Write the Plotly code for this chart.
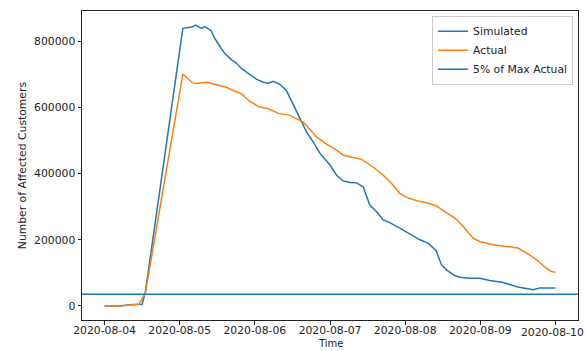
import pandas as pd
import plotly.graph_objects as go

start = pd.Timestamp("2020-08-04 00:00")

sim_hours = [0, 5, 8, 12, 13, 25, 28, 29, 31, 32, 34, 35, 37, 38.5, 40.6, 42, 43.8, 45.9, 48.6,
             50.7, 52.3, 53.9, 56, 58.1, 59.7, 62.4, 64.5, 66.6, 68.8, 72, 74.1, 76.2, 78.4,
             80.5, 82.6, 84.7, 86.9, 89, 91.1, 94.3, 97.5, 100.7, 103.3, 105.9, 107.6, 109.2,
             111.9, 113.5, 116.6, 119.8, 123, 127.3, 132, 136.9, 139, 144]
sim_values = [0, 0, 4000, 5000, 40000, 839000, 843000, 849000, 839000, 844000, 832000, 812000,
              782000, 762000, 744000, 735000, 717000, 704000, 685000, 676000, 673000, 679000,
              670000, 651000, 621000, 567000, 526000, 496000, 461000, 426000, 395000, 378000,
              373000, 372000, 360000, 305000, 285000, 260000, 252000, 235000, 217000, 200000,
              190000, 167000, 124000, 109000, 91000, 87000, 84000, 84000, 77000, 71000, 57000,
              49000, 54000, 54000]

act_hours = [0, 5, 8, 11, 13, 25, 28, 29.4, 32.6, 35.8, 39, 41.1, 43.8, 46.4, 49.6, 52.3, 55.5,
             59.2, 63.5, 67.7, 71.4, 74.1, 76.2, 78.4, 82.1, 85.8, 89, 91.7, 94.3, 96.5, 99.7,
             102.9, 106, 109.2, 112.4, 114.5, 116.6, 117.7, 119.8, 124.1, 128.4, 132, 134.8,
             138, 141.1, 142.7, 144]
act_values = [0, 0, 3000, 6000, 37000, 701000, 675000, 672000, 676000, 669000, 661000, 651000,
              641000, 618000, 601000, 596000, 582000, 576000, 556000, 511000, 486000, 471000,
              456000, 451000, 443000, 420000, 395000, 370000, 340000, 328000, 318000, 312000,
              302000, 282000, 262000, 240000, 215000, 205000, 195000, 185000, 180000, 175000,
              160000, 139000, 114000, 104000, 102000]

sim_t = [start + pd.Timedelta(hours=h) for h in sim_hours]
act_t = [start + pd.Timedelta(hours=h) for h in act_hours]
threshold = 0.05 * max(act_values)

tmin, tmax = min(sim_t + act_t), max(sim_t + act_t)
pad_t = (tmax - tmin) * 0.05
xr = [tmin - pad_t, tmax + pad_t]
vmin, vmax = min(sim_values + act_values + [threshold]), max(sim_values + act_values)
pad_v = (vmax - vmin) * 0.05
yr = [vmin - pad_v, vmax + pad_v]

tick_dates = pd.date_range("2020-08-04", "2020-08-10", freq="D")
tick_text = [d.strftime("%Y-%m-%d") for d in tick_dates]
FS = 10.8

fig = go.Figure()
fig.add_trace(go.Scatter(x=sim_t, y=sim_values, mode="lines", name="Simulated",
                         line=dict(color="#1f77b4", width=1.5)))
fig.add_trace(go.Scatter(x=act_t, y=act_values, mode="lines", name="Actual",
                         line=dict(color="#ff7f0e", width=1.5)))
fig.add_trace(go.Scatter(x=xr, y=[threshold, threshold], mode="lines", name="5% of Max Actual",
                         line=dict(color="#1f77b4", width=1.5)))

axis_common = dict(showgrid=False, zeroline=False, showline=True, linecolor="#222222",
                   linewidth=1, mirror=True, ticks="outside", ticklen=3.5, tickwidth=0.8,
                   tickcolor="#222222", automargin=False,
                   tickfont=dict(family="DejaVu Sans", size=FS, color="#222222"))

# the last date label would run past the page edge; draw it as an annotation nudged inward
last_label = dict(text=tick_text[-1], xref="x", yref="paper", x=tick_dates[-1], y=-4 / 309,
                  xanchor="center", yanchor="top", xshift=-3, showarrow=False,
                  font=dict(family="DejaVu Sans", size=FS, color="#222222"))

fig.update_layout(
    width=586, height=351,
    margin=dict(l=82, r=8, t=11, b=31),
    paper_bgcolor="white", plot_bgcolor="white",
    font=dict(family="DejaVu Sans", size=FS, color="#222222"),
    xaxis=dict(range=xr, tickvals=tick_dates, ticktext=tick_text[:-1] + [""],
               ticklabelstandoff=-3, **axis_common),
    yaxis=dict(range=yr, tickvals=[0, 200000, 400000, 600000, 800000],
               ticktext=["0", "200000", "400000", "600000", "800000"], **axis_common),
    legend=dict(x=0.99, y=0.985, xanchor="right", yanchor="top",
                bgcolor="rgba(255,255,255,0.8)", bordercolor="#cccccc", borderwidth=1,
                font=dict(family="DejaVu Sans", size=FS), tracegroupgap=0, itemwidth=30),
    showlegend=True,
    annotations=[
        last_label,
        dict(text="Time", xref="paper", yref="paper", x=0.5, y=-31 / 309, xanchor="center",
             yanchor="bottom", showarrow=False, font=dict(size=10)),
        dict(text="Number of Affected Customers", xref="paper", yref="paper",
             x=(22.7 - 82) / 496, y=0.5, xanchor="center", yanchor="middle", textangle=-90,
             showarrow=False, font=dict(size=FS)),
    ],
)

fig.write_html("out.html")
